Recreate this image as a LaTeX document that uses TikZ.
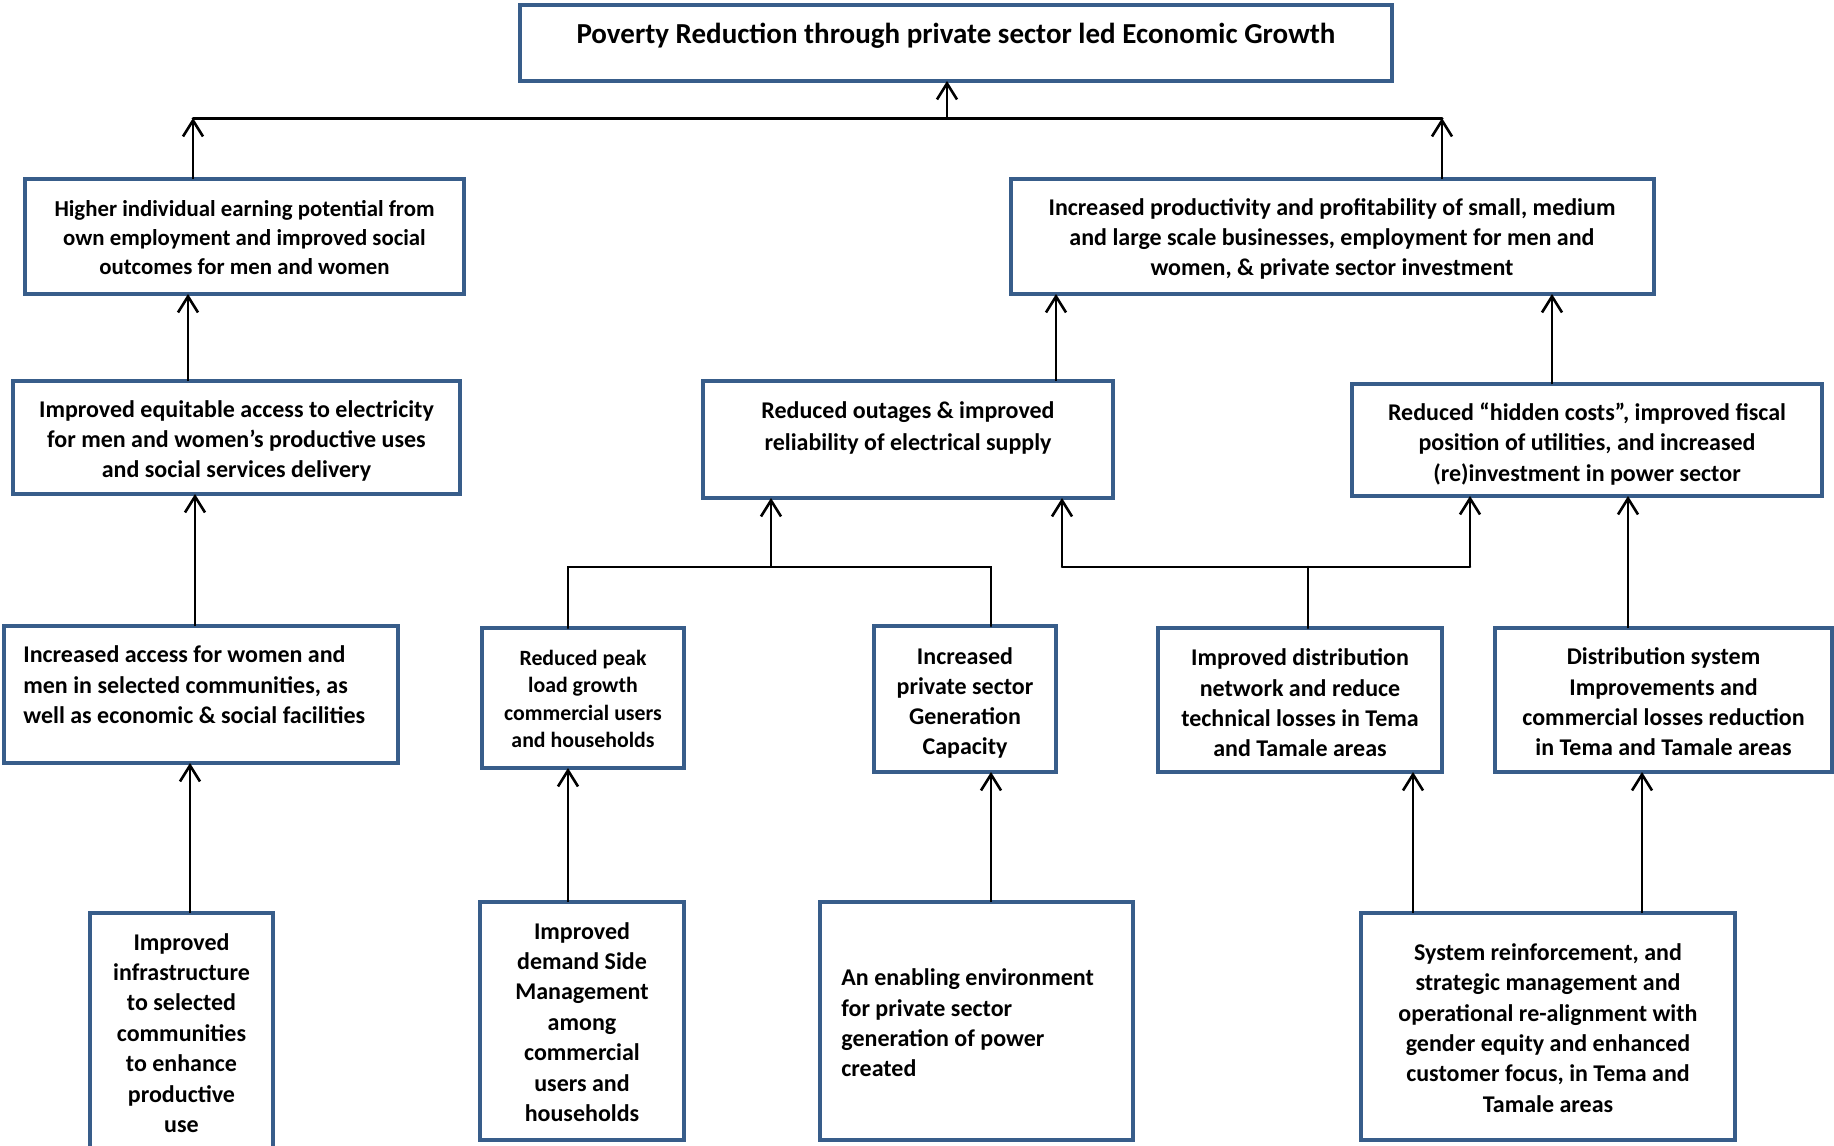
\documentclass[tikz,border=0pt]{standalone}
\usepackage{fontspec}
\setmainfont{Carlito}
\usetikzlibrary{arrows.meta}
\definecolor{boxc}{RGB}{56,93,138}
\begin{document}
\begin{tikzpicture}[x=0.5pt,y=-0.5pt,
  box/.style={draw=boxc, line width=2.2pt, fill=white, inner sep=0pt, outer sep=0pt, anchor=north west},
  txt/.style={align=center, inner sep=0pt, font=\bfseries\fontsize{12}{15.2}\selectfont},
  txtl/.style={align=left, inner sep=0pt, anchor=west, font=\bfseries\fontsize{12}{15.2}\selectfont},
  conn/.style={line width=1.3pt, line cap=round},
  arr/.style={line width=1.3pt, -{Straight Barb[length=8pt,width=10pt,line width=1.3pt]}}]
\useasboundingbox (0,0) rectangle (1834,1145);
\fill[white] (0,0) rectangle (1834,1145);
% boxes
\node[box, minimum width=436pt, minimum height=38pt] (top) at (520,5) {};
\node[box, minimum width=219.5pt, minimum height=57.5pt] (higher) at (25,179) {};
\node[box, minimum width=321.5pt, minimum height=57.5pt] (prod) at (1011,179) {};
\node[box, minimum width=223.5pt, minimum height=56.5pt] (equit) at (13,381) {};
\node[box, minimum width=205pt, minimum height=58.5pt] (outage) at (703,381) {};
\node[box, minimum width=235pt, minimum height=56pt] (hidden) at (1352,384) {};
\node[box, minimum width=197pt, minimum height=68.5pt] (access) at (4,626) {};
\node[box, minimum width=101pt, minimum height=70pt] (peak) at (482,628) {};
\node[box, minimum width=91pt, minimum height=73pt] (priv) at (874,626) {};
\node[box, minimum width=142pt, minimum height=72pt] (distnet) at (1158,628) {};
\node[box, minimum width=168.5pt, minimum height=72pt] (distsys) at (1495,628) {};
\node[box, minimum width=91.5pt, minimum height=130pt] (infra) at (90,913) {};
\node[box, minimum width=102pt, minimum height=119pt] (demand) at (480,902) {};
\node[box, minimum width=156.5pt, minimum height=119pt] (enable) at (820,902) {};
\node[box, minimum width=187pt, minimum height=113.5pt] (sysref) at (1361,913) {};
% texts
\node[txt, font=\bfseries\fontsize{14.5}{17}\selectfont] (ttop) at (956,36) {Poverty Reduction through private sector led Economic Growth};
\node[txt, font=\bfseries\fontsize{11.4}{14.5}\selectfont] (thigher) at (244.5,238) {Higher individual earning potential from\\own employment and improved social\\outcomes for men and women};
\node[txt, font=\bfseries\fontsize{12}{14.9}\selectfont] (tprod) at (1332,239) {Increased productivity and profitability of small, medium\\and large scale businesses, employment for men and\\women, \& private sector investment};
\node[txt] (tequit) at (236.5,441) {Improved equitable access to electricity\\for men and women’s productive uses\\and social services delivery};
\node[txt, font=\bfseries\fontsize{12}{15.6}\selectfont] (toutage) at (908,428) {Reduced outages \& improved\\reliability of electrical supply};
\node[txt] (thidden) at (1587,444) {Reduced “hidden costs”, improved fiscal\\position of utilities, and increased\\(re)investment in power sector};
\node[txtl] (taccess) at (23,685) {Increased access for women and\\men in selected communities, as\\well as economic \& social facilities};
\node[txt, font=\bfseries\fontsize{10.9}{13.6}\selectfont] (tpeak) at (583,699) {Reduced peak\\load growth\\commercial users\\and households};
\node[txt, font=\bfseries\fontsize{12}{15.0}\selectfont] (tpriv) at (965,703) {Increased\\private sector\\Generation\\Capacity};
\node[txt] (tdistnet) at (1300,703) {Improved distribution\\network and reduce\\technical losses in Tema\\and Tamale areas};
\node[txt] (tdistsys) at (1663.5,702) {Distribution system\\Improvements and\\commercial losses reduction\\in Tema and Tamale areas};
\node[txt] (tinfra) at (181.5,1033) {Improved\\infrastructure\\to selected\\communities\\to enhance\\productive\\use};
\node[txt] (tdemand) at (582,1022) {Improved\\demand Side\\Management\\among\\commercial\\users and\\households};
\node[txtl] (tenable) at (841,1023) {An enabling environment\\for private sector\\generation of power\\created};
\node[txt] (tsysref) at (1548,1028) {System reinforcement, and\\strategic management and\\operational re-alignment with\\gender equity and enhanced\\customer focus, in Tema and\\Tamale areas};
% reference coordinates
\coordinate (busL) at (193,118);
\coordinate (busR) at (1442,118);
\coordinate (busM) at (947,118);
\coordinate (xA) at (188,0);
\coordinate (xB) at (195,0);
\coordinate (xC) at (190,0);
\coordinate (xD) at (568,0);
\coordinate (j1) at (771,567);
\coordinate (j1L) at (568,567);
\coordinate (j1R) at (991,567);
\coordinate (j2) at (1308,567);
\coordinate (j2L) at (1062,567);
\coordinate (j2R) at (1470,567);
\coordinate (xE) at (1628,0);
\coordinate (xF) at (1056,0);
\coordinate (xG) at (1552,0);
\coordinate (xH) at (1413,0);
\coordinate (xI) at (1642,0);
% connectors
\draw[conn, line width=1.5pt] (busL) -- (busR);
\draw[arr] (busM) -- (busM |- top.south);
\draw[arr] (higher.north -| busL) -- (busL);
\draw[arr] (prod.north -| busR) -- (busR);
\draw[arr] (equit.north -| xA) -- (higher.south -| xA);
\draw[arr] (access.north -| xB) -- (equit.south -| xB);
\draw[arr] (infra.north -| xC) -- (access.south -| xC);
\draw[arr] (demand.north -| xD) -- (peak.south -| xD);
\draw[conn] (peak.north -| j1L) -- (j1L) -- (j1R) -- (priv.north -| j1R);
\draw[arr] (j1) -- (outage.south -| j1);
\draw[arr] (enable.north -| j1R) -- (priv.south -| j1R);
\draw[conn] (distnet.north -| j2) -- (j2);
\draw[conn] (j2L) -- (j2R);
\draw[arr] (j2L) -- (outage.south -| j2L);
\draw[arr] (j2R) -- (hidden.south -| j2R);
\draw[arr] (distsys.north -| xE) -- (hidden.south -| xE);
\draw[arr] (outage.north -| xF) -- (prod.south -| xF);
\draw[arr] (hidden.north -| xG) -- (prod.south -| xG);
\draw[arr] (sysref.north -| xH) -- (distnet.south -| xH);
\draw[arr] (sysref.north -| xI) -- (distsys.south -| xI);
\end{tikzpicture}
\end{document}
